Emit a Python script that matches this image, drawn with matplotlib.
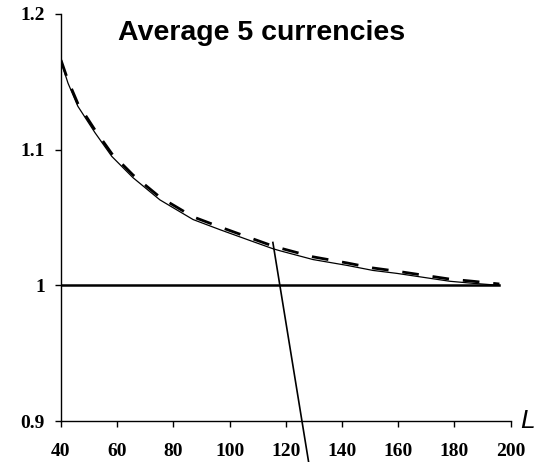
import matplotlib
matplotlib.use('Agg')
import matplotlib.pyplot as plt

# data
L = [40, 42.5, 46.0, 52.1, 58.1, 65.6, 75.2, 87.0, 96.6, 107.3, 115.4,
     117.9, 129.7, 141.8, 151.0, 159.6, 166.7, 178.4, 186.6, 196.0]
fitted = [1.165, 1.149, 1.132, 1.1125, 1.095, 1.0794, 1.063, 1.0485, 1.041, 1.033, 1.027,
          1.0255, 1.019, 1.0147, 1.011, 1.0088, 1.0066, 1.003, 1.0015, 1.0]
observed = [1.166, 1.151, 1.134, 1.1145, 1.097, 1.0814, 1.065, 1.0505, 1.043, 1.035, 1.029,
            1.0275, 1.021, 1.0165, 1.0128, 1.0104, 1.0082, 1.0046, 1.003, 1.001]
ref_x = [40, 196.0]
ref_y = [1.0, 1.0]
pointer_x = [115.4, 128.1]
pointer_y = [1.0316, 0.870]

xticks = [40, 60, 80, 100, 120, 140, 160, 180, 200]
yticks = [0.9, 1.0, 1.1, 1.2]
ylabels = ['0.9', '1', '1.1', '1.2']

fig = plt.figure(figsize=(5.48, 4.62), dpi=100)
ax = fig.add_axes([0.1113, 0.0887, 0.8205, 0.881])

ax.plot(L, observed, color='black', lw=2.0, ls=(0, (6, 5)))
ax.plot(L, fitted, color='black', lw=0.9)
ax.plot(ref_x, ref_y, color='black', lw=1.8)
ax.plot(pointer_x, pointer_y, color='black', lw=1.2, clip_on=False)

ax.set_xlim(40, 200)
ax.set_ylim(0.9, 1.2)
ax.spines['top'].set_visible(False)
ax.spines['right'].set_visible(False)
ax.spines['left'].set_linewidth(1.0)
ax.spines['bottom'].set_linewidth(1.0)

ax.set_xticks(xticks)
ax.set_xticklabels([str(v) for v in xticks])
ax.set_yticks(yticks)
ax.set_yticklabels(ylabels)
ax.tick_params(axis='x', direction='out', length=4.5, width=1, pad=11)
ax.tick_params(axis='y', direction='out', length=4.5, width=1, pad=7)
for lab in ax.get_xticklabels() + ax.get_yticklabels():
    lab.set_fontfamily('Liberation Serif')
    lab.set_fontweight('bold')
    lab.set_fontsize(14)

ax.text(111.2, 1.186, 'Average 5 currencies', ha='center', va='center',
        fontsize=20.5, fontweight='bold', family='Liberation Sans')
ax.text(203.5, 0.9, 'L', ha='left', va='center', fontsize=19,
        style='italic', family='Liberation Sans', clip_on=False)

fig.savefig('out.png', dpi=100)
